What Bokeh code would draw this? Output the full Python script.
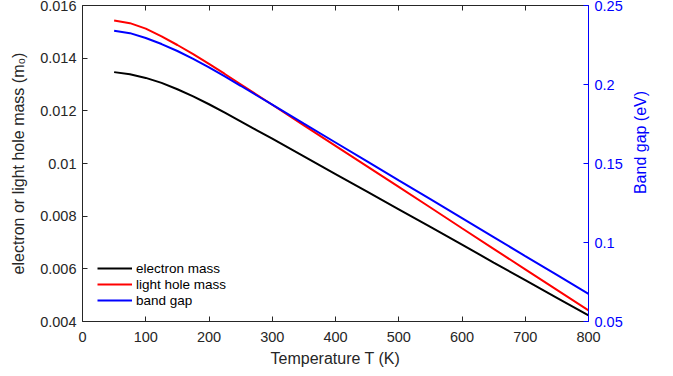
import math
from bokeh.plotting import figure
from bokeh.layouts import row
from bokeh.models import (Range1d, LinearAxis, FixedTicker, CustomJSTickFormatter, Legend,
                          LegendItem, CustomLabelingPolicy)
from bokeh.core.properties import value
from bokeh.embed import file_html
from bokeh.resources import INLINE

temperature = [50, 75, 100, 125, 150, 175, 200, 225, 250, 275, 300,
               350, 400, 450, 500, 550, 600, 650, 700, 750, 800]
electron_mass = [0.01347, 0.01339, 0.01325, 0.01306, 0.01282, 0.01255, 0.01225, 0.01193,
                 0.01160, 0.01127, 0.01094, 0.01027, 0.00960, 0.00893, 0.00826, 0.00759,
                 0.00692, 0.00624, 0.00557, 0.00490, 0.00423]
light_hole_mass = [0.01543, 0.01533, 0.01512, 0.01483, 0.01450, 0.01415, 0.01378, 0.01340,
                   0.01301, 0.01262, 0.01223, 0.01145, 0.01067, 0.00989, 0.00911, 0.00833,
                   0.00754, 0.00676, 0.00598, 0.00520, 0.00442]
band_gap = [0.2340, 0.2325, 0.2294, 0.2256, 0.2212, 0.2162, 0.2108, 0.2051,
            0.1992, 0.1932, 0.1872, 0.1752, 0.1633, 0.1513, 0.1393, 0.1274,
            0.1154, 0.1034, 0.0914, 0.0795, 0.0675]

x_ticks = [0, 100, 200, 300, 400, 500, 600, 700, 800]
left_ticks = [0.004, 0.006, 0.008, 0.010, 0.012, 0.014, 0.016]
right_ticks = [0.05, 0.10, 0.15, 0.20, 0.25]

FONT = "Liberation Sans"
DARK = "#262626"
BLUE = "#0000ff"
TICK_FS = "14.5px"
LABEL_FS = "16px"

p = figure(width=625, height=376, output_backend="svg", toolbar_location=None,
           x_range=Range1d(0, 800), y_range=Range1d(0.004, 0.016),
           min_border_left=82, min_border_right=37, min_border_top=5, min_border_bottom=55,
           x_axis_location=None, y_axis_location=None)
p.extra_y_ranges = {"gap": Range1d(0.05, 0.25)}
p.grid.visible = False
p.outline_line_color = None
p.background_fill_color = "white"
p.border_fill_color = "white"

fmt = CustomJSTickFormatter(code="return String(parseFloat(tick.toFixed(6)));")

def style(ax, color, ticks):
    ax.ticker = FixedTicker(ticks=ticks)
    ax.formatter = fmt
    ax.axis_line_color = color
    ax.axis_line_width = 1
    ax.major_tick_line_color = color
    ax.major_tick_in = 5
    ax.major_tick_out = 0
    ax.minor_tick_line_color = None
    ax.major_label_text_color = color
    ax.major_label_text_font = FONT
    ax.major_label_text_font_size = TICK_FS
    ax.axis_label_text_color = color
    ax.axis_label_text_font = FONT
    ax.axis_label_text_font_size = LABEL_FS
    ax.axis_label_text_font_style = "normal"

xb = LinearAxis(axis_label="Temperature T (K)")
style(xb, DARK, x_ticks)
xb.major_label_standoff = 10
xb.axis_label_standoff = 5
p.add_layout(xb, "below")

xt = LinearAxis()
style(xt, DARK, x_ticks)
xt.major_label_standoff = 0
xt.major_label_text_font_size = "0px"
xt.major_label_policy = CustomLabelingPolicy(
    code="for (let i = 0; i < indices.size; i++) { indices.unset(i); } return indices;")
p.add_layout(xt, "above")

yl = LinearAxis(axis_label="electron or light hole mass (m\u2080)")
style(yl, DARK, left_ticks)
yl.major_label_standoff = 6
yl.axis_label_standoff = 10
p.add_layout(yl, "left")

yr = LinearAxis(y_range_name="gap")
style(yr, BLUE, right_ticks)
yr.major_label_standoff = 6
p.add_layout(yr, "right")

r1 = p.line(temperature, electron_mass, line_color="black", line_width=2)
r2 = p.line(temperature, light_hole_mass, line_color="red", line_width=2)
r3 = p.line(temperature, band_gap, line_color="blue", line_width=2, y_range_name="gap")

legend = Legend(items=[LegendItem(label="electron mass", renderers=[r1]),
                       LegendItem(label="light hole mass", renderers=[r2]),
                       LegendItem(label="band gap", renderers=[r3])],
                location=(15, 13), padding=0, margin=0, spacing=0,
                glyph_width=35, glyph_height=16, label_height=16, label_standoff=4,
                label_text_font=FONT, label_text_font_size="13.5px", label_text_color="black",
                background_fill_alpha=0, border_line_color=None)
p.add_layout(legend, "center")

# narrow strip on the right carrying the rotated right-axis title (reads bottom to top)
p2 = figure(width=48, height=376, output_backend="svg", toolbar_location=None,
            x_range=Range1d(0, 48), y_range=Range1d(0, 376), min_border=0,
            x_axis_location=None, y_axis_location=None)
p2.grid.visible = False
p2.outline_line_color = None
p2.background_fill_color = "white"
p2.border_fill_color = "white"
p2.text(x=[14.5], y=[213], text=["Band gap (eV)"], angle=math.pi / 2,
        text_align="center", text_baseline="middle",
        text_font=value(FONT), text_font_size=value(LABEL_FS), text_color=BLUE)

layout = row(p, p2, spacing=0)
open("out.html", "w").write(file_html(layout, INLINE))
